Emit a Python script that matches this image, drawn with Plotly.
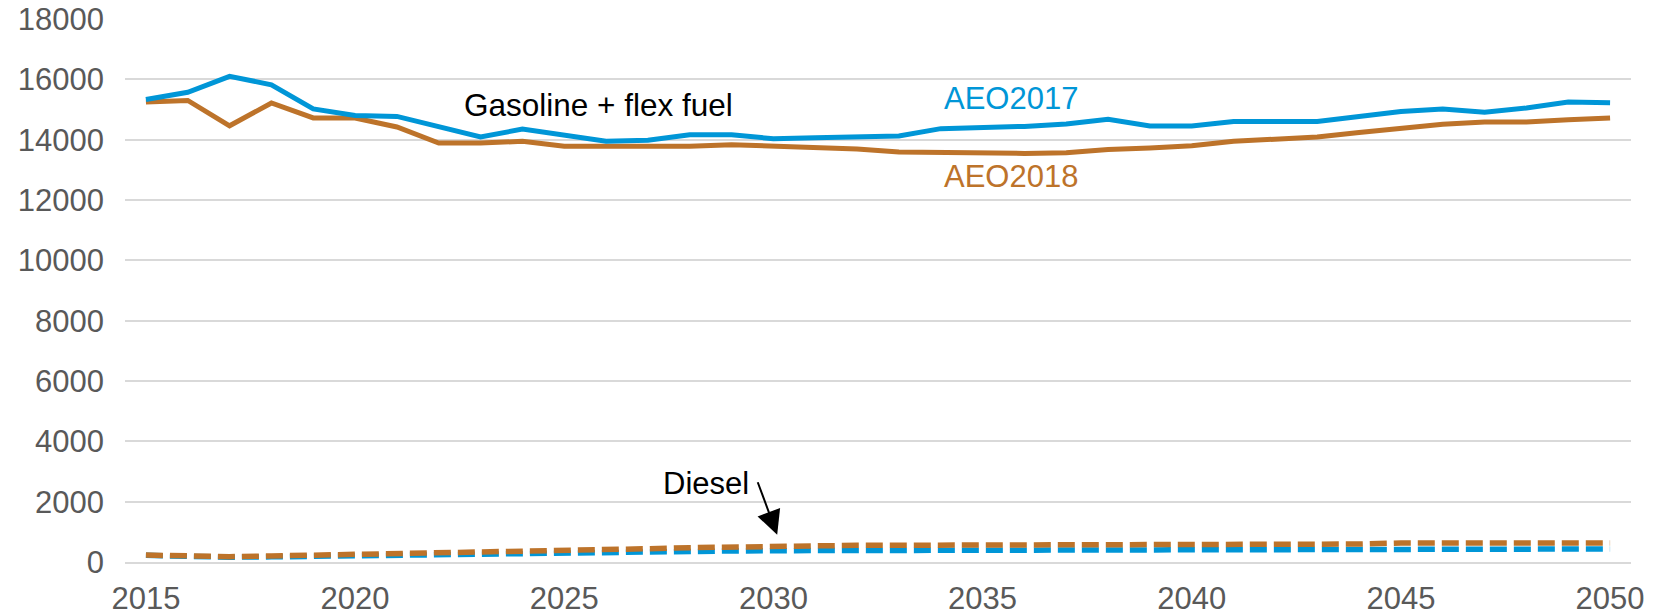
import plotly.graph_objects as go

years = list(range(2015, 2051))

gas_aeo2017 = [15330, 15570, 16100, 15820, 15020, 14800, 14770, 14420, 14090, 14350,
               14165, 13945, 13980, 14165, 14165, 14030, 14060, 14090, 14120, 14365,
               14400, 14440, 14520, 14675, 14450, 14450, 14600, 14600, 14600, 14770,
               14930, 15015, 14910, 15050, 15250, 15220]

gas_aeo2018 = [15250, 15300, 14460, 15215, 14720, 14720, 14420, 13890, 13890, 13945,
               13780, 13780, 13770, 13780, 13835, 13790, 13756, 13690, 13590, 13570,
               13540, 13545, 13570, 13670, 13720, 13800, 13945, 14000, 14090, 14240,
               14375, 14510, 14585, 14585, 14660, 14720]

diesel_aeo2017 = [220, 175, 160, 170, 190, 225, 250, 270, 285, 295,
                  310, 325, 335, 352, 365, 375, 380, 383, 385, 387,
                  388, 390, 392, 394, 396, 405, 407, 408, 410, 415,
                  425, 428, 428, 430, 432, 432]

diesel_aeo2018 = [230, 190, 177, 200, 222, 275, 305, 330, 343, 354,
                  376, 398, 440, 475, 500, 540, 550, 553, 555, 557,
                  558, 560, 562, 565, 568, 575, 577, 580, 585, 595,
                  630, 632, 632, 633, 633, 633]

x_ticks = [2015, 2020, 2025, 2030, 2035, 2040, 2045, 2050]
y_ticks = [0, 2000, 4000, 6000, 8000, 10000, 12000, 14000, 16000, 18000]

BLUE = "#0096d7"
ORANGE = "#bd732a"
FONT = "Liberation Sans, Arial, sans-serif"

fig = go.Figure()
fig.add_trace(go.Scatter(x=years, y=gas_aeo2018, mode="lines", name="AEO2018 gasoline",
                         line=dict(color=ORANGE, width=5)))
fig.add_trace(go.Scatter(x=years, y=gas_aeo2017, mode="lines", name="AEO2017 gasoline",
                         line=dict(color=BLUE, width=5)))
fig.add_trace(go.Scatter(x=years, y=diesel_aeo2017, mode="lines", name="AEO2017 diesel",
                         line=dict(color=BLUE, width=5.5, dash="17px,7px")))
fig.add_trace(go.Scatter(x=years, y=diesel_aeo2018, mode="lines", name="AEO2018 diesel",
                         line=dict(color=ORANGE, width=5.5, dash="17px,7px")))

fig.add_annotation(x=2025.83, y=15160, text="Gasoline + flex fuel", showarrow=False,
                   font=dict(family=FONT, size=31.5, color="#000000"))
fig.add_annotation(x=2035.69, y=15365, text="AEO2017", showarrow=False,
                   font=dict(family=FONT, size=31, color=BLUE))
fig.add_annotation(x=2035.69, y=12765, text="AEO2018", showarrow=False,
                   font=dict(family=FONT, size=31, color=ORANGE))
fig.add_annotation(x=2028.39, y=2604, text="Diesel", showarrow=False,
                   font=dict(family=FONT, size=31, color="#000000"))
fig.add_annotation(x=2030.09, y=904, text="", showarrow=True, ax=-20, ay=-54,
                   arrowhead=2, arrowsize=2.4, arrowwidth=2, arrowcolor="#000000",
                   standoff=0, startstandoff=0)

fig.update_layout(
    width=1661, height=615,
    margin=dict(l=125, r=30, t=19, b=53, autoexpand=False),
    plot_bgcolor="white", paper_bgcolor="white",
    showlegend=False,
    font=dict(family=FONT, size=31, color="#595959"),
)
fig.update_xaxes(range=[2014.5, 2050.5], tickvals=x_ticks, ticktext=[str(v) for v in x_ticks],
                 showgrid=False, zeroline=False, showline=True, linecolor="#d9d9d9", linewidth=2,
                 ticks="", ticklabelstandoff=8, automargin=False,
                 tickfont=dict(family=FONT, size=31, color="#595959"))
fig.update_yaxes(range=[0, 18000], tickvals=y_ticks, ticktext=[str(v) for v in y_ticks],
                 showgrid=True, gridcolor="#d9d9d9", gridwidth=1.5, zeroline=False,
                 showline=False, ticks="", ticklabelstandoff=20, automargin=False,
                 tickfont=dict(family=FONT, size=31, color="#595959"))

fig.write_html("out.html", config={"displayModeBar": False},
               post_script="document.body.style.margin='0';document.body.style.overflow='hidden';")
